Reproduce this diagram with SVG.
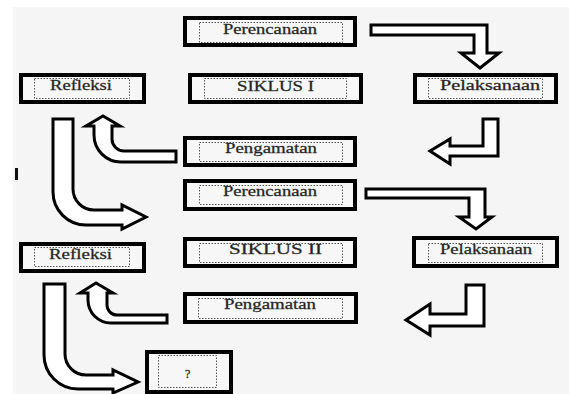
<svg xmlns="http://www.w3.org/2000/svg" width="569" height="394" viewBox="0 0 569 394">
<style>
.ob{fill:#f7f7f7;stroke:#000;stroke-width:4}
.ib{fill:none;stroke:#555;stroke-width:1;stroke-dasharray:1.5 1.5}
.t{font-family:"Liberation Serif","Times New Roman",serif;font-size:15.5px;fill:#222;stroke:#333;stroke-width:0.3}
.ar{fill:#fff;stroke:#000;stroke-width:3;stroke-linejoin:miter}
</style>
<rect x="0" y="0" width="569" height="394" fill="#fff"/>
<rect x="13" y="7" width="556" height="387" fill="#f5f5f5"/>
<rect x="15" y="168" width="3" height="12" fill="#111"/>

<g id="connectors">
<path class="ar" d="M371,25 H487 V53 H499 L480,68 L461,53 H474 V35 H371 Z"/>
<path class="ar" d="M483,119 H498 V156 H450 V164 L430,151 L450,139 V146 H483 Z"/>
<path class="ar" d="M366,189 H485 V217 H492 L476,229 L459,217 H469 V198 H366 Z"/>
<path class="ar" d="M466,285 H484 V326 H430 V335 L406,320 L430,304 V314 H466 Z"/>
<path class="ar" d="M94,126 V135 A27,27 0 0 0 121,162 H176 V151 H124 A12,12 0 0 1 112,139 V126 H120 L103,116 L86,126 Z"/>
<path class="ar" d="M53,119 V192 A33,33 0 0 0 86,225 H122 V229 L146,217 L122,205 V210 H94 A21,21 0 0 1 73,189 V119 Z"/>
<path class="ar" d="M88,293 V300 A23,23 0 0 0 111,323 H167 V315 H117 A10,10 0 0 1 107,305 V293 H113 L96,283 L80,293 Z"/>
<path class="ar" d="M44,284 V355 A34,34 0 0 0 78,389 H113 V393 L138,382 L113,370 V375 H86 A21,21 0 0 1 65,354 V284 Z"/>
</g>

<g id="perencanaan1">
<rect class="ob" x="185" y="18" width="170" height="27"/>
<rect class="ib" x="199.5" y="22.5" width="143" height="20"/>
<text class="t" x="223" y="34" textLength="94" lengthAdjust="spacingAndGlyphs">Perencanaan</text>
</g>
<g id="siklus1">
<rect class="ob" x="190" y="75" width="171" height="27"/>
<rect class="ib" x="204.5" y="78.5" width="142" height="20"/>
<text class="t" x="237" y="91" textLength="77" lengthAdjust="spacingAndGlyphs">SIKLUS I</text>
</g>
<g id="refleksi1">
<rect class="ob" x="21" y="75" width="123" height="27"/>
<rect class="ib" x="34.5" y="78.5" width="95" height="20"/>
<text class="t" x="50" y="90" textLength="62" lengthAdjust="spacingAndGlyphs">Refleksi</text>
</g>
<g id="pelaksanaan1">
<rect class="ob" x="415" y="75" width="141" height="27"/>
<rect class="ib" x="428.5" y="78.5" width="114" height="20"/>
<text class="t" x="440" y="90" textLength="100" lengthAdjust="spacingAndGlyphs">Pelaksanaan</text>
</g>
<g id="pengamatan1">
<rect class="ob" x="185" y="138" width="170" height="27"/>
<rect class="ib" x="199.5" y="142.5" width="143" height="19"/>
<text class="t" x="225" y="153" textLength="92" lengthAdjust="spacingAndGlyphs">Pengamatan</text>
</g>
<g id="perencanaan2">
<rect class="ob" x="185" y="181" width="170" height="28"/>
<rect class="ib" x="199.5" y="185.5" width="143" height="19"/>
<text class="t" x="223" y="196" textLength="94" lengthAdjust="spacingAndGlyphs">Perencanaan</text>
</g>
<g id="siklus2">
<rect class="ob" x="185" y="239" width="170" height="27"/>
<rect class="ib" x="199.5" y="243.5" width="143" height="19"/>
<text class="t" x="229" y="254" textLength="93" lengthAdjust="spacingAndGlyphs">SIKLUS II</text>
</g>
<g id="pelaksanaan2">
<rect class="ob" x="414" y="238" width="143" height="28"/>
<rect class="ib" x="428.5" y="243.5" width="114" height="19"/>
<text class="t" x="440" y="254" textLength="92" lengthAdjust="spacingAndGlyphs">Pelaksanaan</text>
</g>
<g id="refleksi2">
<rect class="ob" x="21" y="244" width="123" height="27"/>
<rect class="ib" x="34.5" y="247.5" width="95" height="19"/>
<text class="t" x="49" y="259" textLength="63" lengthAdjust="spacingAndGlyphs">Refleksi</text>
</g>
<g id="pengamatan2">
<rect class="ob" x="185" y="294" width="171" height="28"/>
<rect class="ib" x="198.5" y="298.5" width="144" height="20"/>
<text class="t" x="224" y="309" textLength="92" lengthAdjust="spacingAndGlyphs">Pengamatan</text>
</g>
<g id="tanya">
<rect class="ob" x="147" y="352" width="84" height="40"/>
<rect class="ib" x="158.5" y="355.5" width="58" height="32"/>
<text class="t" x="185" y="378" style="font-size:12px">?</text>
</g>
</svg>
